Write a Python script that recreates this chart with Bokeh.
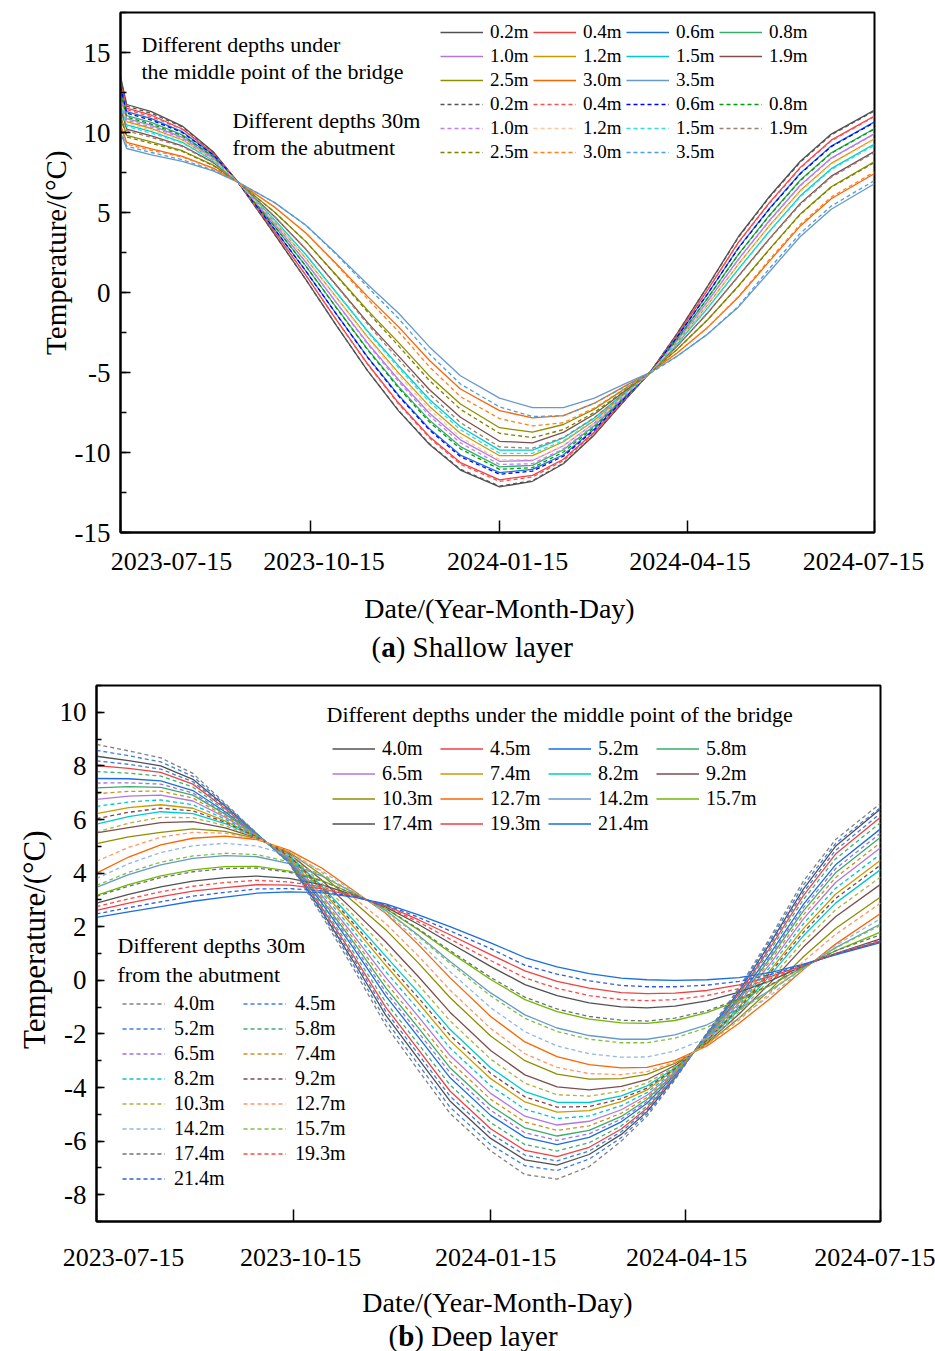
import pandas as pd
from bokeh.plotting import figure
from bokeh.layouts import column
from bokeh.models import (Legend, LegendItem, Label, FixedTicker, SingleIntervalTicker,
                          LinearAxis, Title)
from bokeh.embed import file_html
from bokeh.resources import INLINE

SERIF = "Liberation Serif"

# ---------------- time axis ----------------
start_date = "2023-07-15"
tick_labels = ["2023-07-15", "2023-10-15", "2024-01-15", "2024-04-15", "2024-07-15"]
tick_days = [(pd.Timestamp(t) - pd.Timestamp(start_date)).days for t in tick_labels]
x_title = "Date/(Year-Month-Day)"
y_title = "Temperature/(°C)"

# ---------------- (a) shallow layer ----------------
shallow_days = [0, 3, 15, 30, 45, 57, 75, 90, 105, 120, 135, 150, 165, 184,
                200, 215, 230, 245, 257, 270, 285, 300, 315, 330, 345, 366]
shallow_depths = ["0.2m", "0.4m", "0.6m", "0.8m", "1.0m", "1.2m", "1.5m",
                  "1.9m", "2.5m", "3.0m", "3.5m"]

# under the middle point of the bridge (solid)
mid_0_2 = [13.5, 11.75, 11.3, 10.4, 8.8, 6.9, 3.6, 0.8, -2.1, -4.9, -7.4, -9.5, -11.1, -12.15, -11.8, -10.7, -8.9, -6.7, -5.0, -2.6, 0.4, 3.5, 6.0, 8.2, 9.9, 11.4]
mid_0_4 = [13.22, 11.53, 11.08, 10.22, 8.7, 6.9, 3.76, 1.07, -1.74, -4.47, -6.91, -9.01, -10.63, -11.71, -11.43, -10.42, -8.72, -6.62, -5.0, -2.71, 0.16, 3.15, 5.62, 7.82, 9.52, 11.03]
mid_0_6 = [12.94, 11.31, 10.87, 10.05, 8.61, 6.9, 3.92, 1.34, -1.38, -4.04, -6.42, -8.52, -10.16, -11.26, -11.06, -10.14, -8.53, -6.54, -5.0, -2.82, -0.08, 2.8, 5.25, 7.45, 9.15, 10.66]
mid_0_8 = [12.63, 11.06, 10.63, 9.85, 8.5, 6.9, 4.1, 1.65, -0.98, -3.55, -5.88, -7.98, -9.63, -10.9, -10.8, -9.83, -8.33, -6.45, -5.0, -2.95, -0.35, 2.4, 4.83, 7.03, 8.73, 10.25]
mid_1_0 = [12.38, 10.87, 10.44, 9.7, 8.42, 6.9, 4.24, 1.89, -0.66, -3.17, -5.45, -7.55, -9.21, -10.55, -10.5, -9.58, -8.16, -6.38, -5.0, -3.05, -0.56, 2.09, 4.5, 6.7, 8.4, 9.93]
mid_1_2 = [12.13, 10.68, 10.25, 9.54, 8.33, 6.9, 4.38, 2.13, -0.34, -2.79, -5.02, -7.12, -8.8, -10.2, -10.2, -9.33, -8.0, -6.31, -5.0, -3.15, -0.77, 1.78, 4.17, 6.37, 8.07, 9.61]
mid_1_5 = [11.89, 10.48, 10.06, 9.39, 8.25, 6.9, 4.52, 2.36, -0.03, -2.42, -4.59, -6.69, -8.39, -9.85, -9.85, -9.09, -7.84, -6.24, -5.0, -3.24, -0.98, 1.48, 3.84, 6.04, 7.74, 9.28]
mid_1_9 = [11.54, 10.21, 9.79, 9.17, 8.13, 6.9, 4.72, 2.7, 0.42, -1.88, -3.98, -6.08, -7.8, -9.3, -9.4, -8.74, -7.61, -6.14, -5.0, -3.38, -1.28, 1.04, 3.37, 5.57, 7.27, 8.82]
mid_2_5 = [11.05, 9.82, 9.41, 8.86, 7.96, 6.9, 5.0, 3.18, 1.05, -1.12, -3.13, -5.23, -6.97, -8.45, -8.72, -8.25, -7.29, -6.0, -5.0, -3.58, -1.7, 0.42, 2.71, 4.91, 6.61, 8.18]
mid_3_0 = [10.49, 9.38, 8.98, 8.51, 7.77, 6.9, 5.32, 3.72, 1.77, -0.26, -2.15, -4.25, -6.03, -7.38, -7.84, -7.69, -6.92, -5.84, -5.0, -3.8, -2.18, -0.28, 1.96, 4.16, 5.86, 7.44]
mid_3_5 = [10.0, 9.0, 8.6, 8.2, 7.6, 6.9, 5.6, 4.2, 2.4, 0.5, -1.3, -3.4, -5.2, -6.6, -7.2, -7.2, -6.6, -5.7, -5.0, -4.0, -2.6, -0.9, 1.3, 3.5, 5.2, 6.8]

# 30 m from the abutment (dashed)
abut_0_2 = [13.4, 11.65, 11.2, 10.35, 8.78, 6.9, 3.6, 0.8, -2.1, -4.9, -7.38, -9.46, -11.05, -12.1, -11.76, -10.67, -8.88, -6.7, -5.0, -2.6, 0.38, 3.45, 5.95, 8.15, 9.85, 11.35]
abut_0_4 = [13.1, 11.43, 10.98, 10.2, 8.7, 6.9, 3.76, 1.07, -1.75, -4.5, -6.97, -9.09, -10.73, -11.81, -11.53, -10.51, -8.78, -6.65, -5.01, -2.71, 0.16, 3.12, 5.58, 7.78, 9.48, 11.0]
abut_0_6 = [12.84, 11.21, 10.77, 10.0, 8.6, 6.9, 3.92, 1.34, -1.39, -4.07, -6.48, -8.6, -10.26, -11.36, -11.16, -10.23, -8.59, -6.57, -5.01, -2.82, -0.08, 2.78, 5.22, 7.42, 9.12, 10.63]
abut_0_8 = [12.53, 10.96, 10.53, 9.8, 8.5, 6.9, 4.1, 1.65, -1.0, -3.6, -5.97, -8.1, -9.77, -11.05, -10.95, -9.97, -8.42, -6.5, -5.02, -2.95, -0.35, 2.38, 4.8, 7.0, 8.7, 10.22]
abut_1_0 = [12.28, 10.77, 10.34, 9.65, 8.4, 6.9, 4.24, 1.89, -0.68, -3.23, -5.57, -7.71, -9.4, -10.75, -10.7, -9.76, -8.28, -6.44, -5.02, -3.05, -0.56, 2.06, 4.47, 6.67, 8.37, 9.9]
abut_1_2 = [12.03, 10.58, 10.15, 9.5, 8.3, 6.9, 4.38, 2.13, -0.37, -2.87, -5.17, -7.32, -9.04, -10.45, -10.45, -9.56, -8.15, -6.39, -5.03, -3.15, -0.77, 1.75, 4.12, 6.3, 8.0, 9.55]
abut_1_5 = [11.79, 10.38, 9.96, 9.35, 8.22, 6.9, 4.52, 2.36, -0.05, -2.48, -4.71, -6.85, -8.58, -10.05, -10.05, -9.27, -7.96, -6.3, -5.02, -3.24, -0.98, 1.45, 3.8, 5.98, 7.68, 9.2]
abut_1_9 = [11.44, 10.11, 9.69, 9.12, 8.1, 6.9, 4.72, 2.7, 0.39, -1.99, -4.19, -6.36, -8.13, -9.65, -9.73, -9.06, -7.82, -6.25, -5.04, -3.38, -1.28, 1.0, 3.33, 5.5, 7.2, 8.75]
abut_2_5 = [10.95, 9.72, 9.31, 8.82, 7.93, 6.9, 5.0, 3.18, 1.02, -1.23, -3.34, -5.51, -7.3, -8.8, -9.07, -8.57, -7.5, -6.1, -5.04, -3.58, -1.7, 0.4, 2.68, 4.88, 6.58, 8.12]
abut_3_0 = [10.39, 9.28, 8.88, 8.47, 7.75, 6.9, 5.32, 3.72, 1.72, -0.41, -2.45, -4.65, -6.51, -7.88, -8.34, -8.14, -7.22, -5.99, -5.05, -3.8, -2.18, -0.25, 2.06, 4.26, 5.96, 7.54]
abut_3_5 = [10.15, 9.15, 8.75, 8.3, 7.65, 6.9, 5.6, 4.2, 2.35, 0.34, -1.63, -3.84, -5.72, -7.15, -7.75, -7.7, -6.93, -5.87, -5.06, -4.0, -2.6, -0.85, 1.5, 3.7, 5.4, 7.0]

shallow_mid_colors = ["#515151", "#F14040", "#1A6FDF", "#37AD6B", "#B177DE", "#CC9900",
                      "#00CBCC", "#7D4E4E", "#8E8E00", "#FB6501", "#6699CC"]
shallow_abut_colors = ["#555555", "#FF5050", "#0000FF", "#00A000", "#C080FF", "#FFC8A0",
                       "#30E0E0", "#A08070", "#808000", "#FF8020", "#4A9FE0"]

# ---------------- (b) deep layer ----------------
deep_days = [0, 15, 30, 45, 60, 75, 90, 105, 120, 135, 150, 165, 184, 200,
             215, 230, 245, 257, 270, 285, 300, 315, 330, 345, 366]
deep_depths = ["4.0m", "4.5m", "5.2m", "5.8m", "6.5m", "7.4m", "8.2m", "9.2m",
               "10.3m", "12.7m", "14.2m", "15.7m", "17.4m", "19.3m", "21.4m"]

deep_mid_4_0 = [8.36, 8.2, 8.0, 7.5, 6.5, 5.45, 4.4, 2.6, 0.7, -1.3, -2.9, -4.5, -5.9, -6.7, -6.9, -6.5, -5.75, -4.9, -3.65, -2.0, -0.4, 1.45, 3.4, 5.0, 6.39]
deep_mid_4_5 = [8.01, 7.91, 7.76, 7.32, 6.41, 5.43, 4.44, 2.73, 0.91, -1.0, -2.56, -4.13, -5.54, -6.35, -6.58, -6.23, -5.55, -4.77, -3.6, -2.04, -0.5, 1.28, 3.16, 4.71, 6.08]
deep_mid_5_2 = [7.53, 7.52, 7.44, 7.08, 6.29, 5.41, 4.49, 2.9, 1.2, -0.58, -2.09, -3.63, -5.04, -5.86, -6.13, -5.86, -5.28, -4.59, -3.53, -2.09, -0.63, 1.05, 2.83, 4.31, 5.65]
deep_mid_5_8 = [7.18, 7.23, 7.2, 6.91, 6.2, 5.4, 4.52, 3.03, 1.42, -0.27, -1.75, -3.26, -4.67, -5.51, -5.81, -5.6, -5.08, -4.45, -3.47, -2.12, -0.72, 0.88, 2.59, 4.01, 5.34]
deep_mid_6_5 = [6.75, 6.87, 6.91, 6.69, 6.09, 5.38, 4.57, 3.19, 1.68, 0.11, -1.33, -2.8, -4.22, -5.07, -5.4, -5.26, -4.83, -4.29, -3.41, -2.17, -0.84, 0.67, 2.29, 3.65, 4.95]
deep_mid_7_4 = [6.22, 6.44, 6.55, 6.42, 5.95, 5.35, 4.62, 3.38, 2.0, 0.56, -0.82, -2.25, -3.67, -4.54, -4.92, -4.86, -4.53, -4.09, -3.33, -2.22, -0.99, 0.42, 1.93, 3.21, 4.48]
deep_mid_8_2 = [5.83, 6.11, 6.29, 6.22, 5.85, 5.33, 4.66, 3.53, 2.24, 0.9, -0.43, -1.83, -3.26, -4.15, -4.55, -4.56, -4.31, -3.94, -3.27, -2.26, -1.1, 0.23, 1.66, 2.88, 4.13]
deep_mid_9_2 = [5.5, 5.7, 5.88, 5.92, 5.69, 5.31, 4.72, 3.75, 2.61, 1.44, 0.16, -1.19, -2.62, -3.53, -3.98, -4.09, -3.96, -3.71, -3.18, -2.32, -1.26, -0.06, 1.24, 2.37, 3.58]
deep_mid_10_3 = [5.1, 5.35, 5.52, 5.65, 5.56, 5.28, 4.78, 3.94, 2.93, 1.89, 0.67, -0.64, -2.08, -3.0, -3.5, -3.69, -3.67, -3.51, -3.1, -2.38, -1.41, -0.31, 0.88, 1.93, 3.11]
deep_mid_12_7 = [4.0, 4.6, 5.05, 5.3, 5.38, 5.25, 4.85, 4.2, 3.35, 2.5, 1.35, 0.1, -1.35, -2.3, -2.85, -3.15, -3.27, -3.25, -3.0, -2.45, -1.6, -0.65, 0.4, 1.35, 2.49]
deep_mid_14_2 = [3.47, 3.94, 4.31, 4.55, 4.65, 4.61, 4.35, 3.9, 3.27, 2.61, 1.7, 0.71, -0.47, -1.29, -1.78, -2.06, -2.2, -2.2, -2.04, -1.66, -1.06, -0.35, 0.46, 1.22, 2.1]
deep_mid_15_7 = [3.17, 3.57, 3.9, 4.12, 4.24, 4.25, 4.07, 3.73, 3.22, 2.68, 1.9, 1.05, 0.03, -0.72, -1.17, -1.45, -1.59, -1.61, -1.5, -1.21, -0.75, -0.17, 0.5, 1.1, 1.8]
deep_mid_17_4 = [2.88, 3.21, 3.49, 3.7, 3.83, 3.89, 3.8, 3.57, 3.18, 2.74, 2.1, 1.39, 0.52, -0.16, -0.57, -0.84, -0.99, -1.03, -0.96, -0.77, -0.44, 0.0, 0.54, 1.0, 1.55]
deep_mid_19_3 = [2.61, 2.88, 3.12, 3.33, 3.46, 3.57, 3.55, 3.42, 3.14, 2.79, 2.27, 1.7, 0.96, 0.35, -0.04, -0.29, -0.46, -0.5, -0.48, -0.38, -0.17, 0.15, 0.57, 0.98, 1.45]
deep_mid_21_4 = [2.35, 2.55, 2.75, 2.95, 3.1, 3.25, 3.3, 3.27, 3.1, 2.85, 2.45, 2.0, 1.4, 0.85, 0.5, 0.25, 0.08, 0.02, 0.0, 0.02, 0.1, 0.3, 0.6, 0.95, 1.41]

deep_abut_4_0 = [8.8, 8.56, 8.3, 7.72, 6.61, 5.47, 4.35, 2.44, 0.43, -1.68, -3.33, -4.96, -6.36, -7.25, -7.42, -6.95, -6.0, -5.07, -3.72, -1.95, -0.28, 1.66, 3.7, 5.25, 6.6]
deep_abut_4_5 = [8.58, 8.38, 8.15, 7.61, 6.56, 5.46, 4.38, 2.52, 0.57, -1.49, -3.11, -4.73, -6.13, -6.92, -7.1, -6.67, -5.87, -4.98, -3.68, -1.98, -0.34, 1.56, 3.55, 5.1, 6.45]
deep_abut_5_2 = [8.19, 8.06, 7.88, 7.41, 6.46, 5.44, 4.42, 2.66, 0.81, -1.15, -2.73, -4.32, -5.72, -6.52, -6.74, -6.37, -5.65, -4.83, -3.62, -2.02, -0.45, 1.37, 3.28, 4.85, 6.23]
deep_abut_5_8 = [7.79, 7.73, 7.62, 7.21, 6.35, 5.42, 4.46, 2.81, 1.04, -0.81, -2.35, -3.9, -5.31, -6.13, -6.37, -6.06, -5.43, -4.69, -3.57, -2.06, -0.56, 1.18, 3.01, 4.53, 5.88]
deep_abut_6_5 = [7.36, 7.37, 7.32, 6.99, 6.24, 5.4, 4.5, 2.97, 1.31, -0.43, -1.92, -3.44, -4.85, -5.69, -5.97, -5.73, -5.18, -4.52, -3.5, -2.1, -0.68, 0.97, 2.71, 4.16, 5.49]
deep_abut_7_4 = [6.96, 7.05, 7.06, 6.8, 6.14, 5.39, 4.54, 3.11, 1.55, -0.08, -1.54, -3.03, -4.44, -5.29, -5.6, -5.43, -4.96, -4.37, -3.44, -2.14, -0.78, 0.78, 2.44, 3.83, 5.14]
deep_abut_8_2 = [6.49, 6.65, 6.73, 6.55, 6.02, 5.36, 4.59, 3.29, 1.84, 0.33, -1.07, -2.52, -3.94, -4.81, -5.16, -5.06, -4.68, -4.19, -3.37, -2.19, -0.92, 0.55, 2.11, 3.43, 4.71]
deep_abut_9_2 = [6.03, 6.27, 6.42, 6.32, 5.9, 5.34, 4.64, 3.46, 2.12, 0.73, -0.63, -2.04, -3.47, -4.35, -4.73, -4.71, -4.42, -4.02, -3.3, -2.24, -1.04, 0.33, 1.79, 3.05, 4.3]
deep_abut_10_3 = [5.53, 5.86, 6.08, 6.07, 5.77, 5.32, 4.69, 3.64, 2.42, 1.17, -0.14, -1.51, -2.94, -3.84, -4.27, -4.32, -4.14, -3.83, -3.23, -2.29, -1.18, 0.08, 1.45, 2.63, 3.85]
deep_abut_12_7 = [4.44, 4.96, 5.34, 5.52, 5.49, 5.27, 4.81, 4.04, 3.09, 2.12, 0.93, -0.36, -1.8, -2.74, -3.25, -3.48, -3.52, -3.41, -3.06, -2.41, -1.48, -0.44, 0.7, 1.71, 2.88]
deep_abut_14_2 = [3.8, 4.35, 4.77, 5.02, 5.11, 5.01, 4.66, 4.09, 3.32, 2.54, 1.48, 0.33, -1.02, -1.92, -2.45, -2.74, -2.87, -2.86, -2.64, -2.15, -1.4, -0.54, 0.42, 1.3, 2.3]
deep_abut_15_7 = [3.54, 4.03, 4.41, 4.64, 4.74, 4.69, 4.42, 3.94, 3.28, 2.6, 1.66, 0.63, -0.58, -1.42, -1.91, -2.2, -2.33, -2.33, -2.16, -1.76, -1.12, -0.38, 0.46, 1.2, 2.05]
deep_abut_17_4 = [3.13, 3.51, 3.83, 4.05, 4.17, 4.19, 4.03, 3.71, 3.22, 2.69, 1.93, 1.11, 0.11, -0.63, -1.07, -1.35, -1.49, -1.52, -1.41, -1.14, -0.7, -0.15, 0.51, 1.1, 1.7]
deep_abut_19_3 = [2.75, 3.04, 3.3, 3.51, 3.65, 3.73, 3.67, 3.49, 3.16, 2.77, 2.19, 1.54, 0.74, 0.09, -0.3, -0.57, -0.72, -0.76, -0.72, -0.57, -0.31, 0.07, 0.55, 1.0, 1.5]
deep_abut_21_4 = [2.48, 2.71, 2.93, 3.14, 3.28, 3.41, 3.42, 3.34, 3.12, 2.82, 2.36, 1.85, 1.18, 0.56, 0.23, -0.02, -0.19, -0.24, -0.24, -0.18, -0.04, 0.22, 0.58, 0.98, 1.45]

deep_mid_colors = ["#515151", "#F14040", "#1A6FDF", "#37AD6B", "#B177DE", "#CC9900",
                   "#00CBCC", "#7D4E4E", "#8E8E00", "#FB6501", "#6699CC", "#6FB802",
                   "#515151", "#F14040", "#1A6FDF"]
deep_abut_colors = ["#808080", "#3A7FE8", "#3A7FE8", "#40B070", "#A070E0", "#D09020",
                    "#00C8C8", "#804848", "#B0B040", "#FF9868", "#90B8E0", "#80C040",
                    "#707070", "#FF4848", "#3060E0"]

shallow_mid = [mid_0_2, mid_0_4, mid_0_6, mid_0_8, mid_1_0, mid_1_2, mid_1_5,
               mid_1_9, mid_2_5, mid_3_0, mid_3_5]
shallow_abut = [abut_0_2, abut_0_4, abut_0_6, abut_0_8, abut_1_0, abut_1_2, abut_1_5,
                abut_1_9, abut_2_5, abut_3_0, abut_3_5]
deep_mid = [deep_mid_4_0, deep_mid_4_5, deep_mid_5_2, deep_mid_5_8, deep_mid_6_5,
            deep_mid_7_4, deep_mid_8_2, deep_mid_9_2, deep_mid_10_3, deep_mid_12_7,
            deep_mid_14_2, deep_mid_15_7, deep_mid_17_4, deep_mid_19_3, deep_mid_21_4]
deep_abut = [deep_abut_4_0, deep_abut_4_5, deep_abut_5_2, deep_abut_5_8, deep_abut_6_5,
             deep_abut_7_4, deep_abut_8_2, deep_abut_9_2, deep_abut_10_3, deep_abut_12_7,
             deep_abut_14_2, deep_abut_15_7, deep_abut_17_4, deep_abut_19_3, deep_abut_21_4]

for s in shallow_mid + shallow_abut:
    assert len(s) == len(shallow_days)
for s in deep_mid + deep_abut:
    assert len(s) == len(deep_days)

DASH = "4 3"
X_SPAN = 366


def make_figure(height, y_range, left, right, top, bottom):
    p = figure(width=935, height=height, x_range=(0, X_SPAN), y_range=y_range,
               output_backend="svg", toolbar_location=None,
               min_border_left=left, min_border_right=right,
               min_border_top=top, min_border_bottom=bottom)
    p.grid.visible = False
    p.outline_line_color = "black"
    p.outline_line_width = 2
    p.background_fill_color = "white"
    p.border_fill_color = "white"
    return p


def style_axes(p, frame_px, label_shift_px, label_standoff,
               y_interval, y_ticks, y_label_size, y_label_standoff, y_label_top_gap,
               y_major_in, y_minor_in):
    # tick marks at the dates, pointing into the plot
    xa = p.xaxis[0]
    xa.ticker = FixedTicker(ticks=tick_days, minor_ticks=[])
    xa.major_label_overrides = {d: "" for d in tick_days}
    xa.major_label_text_font_size = "1px"
    xa.major_label_standoff = 0
    xa.major_tick_in = 12
    xa.major_tick_out = 0
    xa.minor_tick_in = 0
    xa.minor_tick_out = 0
    xa.axis_line_width = 2
    xa.major_tick_line_width = 1.5

    # date texts, nudged inward at the ends as in the printed figure
    per_px = X_SPAN / frame_px
    label_pos = [round(d + s * per_px, 3) for d, s in zip(tick_days, label_shift_px)]
    la = LinearAxis(ticker=FixedTicker(ticks=label_pos, minor_ticks=[]),
                    major_label_overrides={pos: lab for pos, lab in zip(label_pos, tick_labels)},
                    axis_line_color=None, major_tick_line_color=None,
                    minor_tick_line_color=None, major_tick_in=0, major_tick_out=0,
                    minor_tick_in=0, minor_tick_out=0,
                    major_label_standoff=label_standoff,
                    major_label_text_font=SERIF, major_label_text_font_size="26px",
                    major_label_text_color="black")
    p.add_layout(la, "below")

    ya = p.yaxis[0]
    ya.ticker = SingleIntervalTicker(interval=y_interval, num_minor_ticks=2)
    ya.major_label_overrides = {v: str(v) for v in y_ticks}
    ya.major_tick_in = y_major_in
    ya.major_tick_out = 0
    ya.minor_tick_in = y_minor_in
    ya.minor_tick_out = 0
    ya.axis_line_width = 2
    ya.major_tick_line_width = 1.5
    ya.minor_tick_line_width = 1.5
    ya.major_label_text_font = SERIF
    ya.major_label_text_font_size = "27px"
    ya.major_label_text_color = "black"
    ya.major_label_standoff = 10

    # vertical axis title, its upper end a fixed gap below the frame top
    p.add_layout(Title(text=y_title, align="right", offset=y_label_top_gap,
                       standoff=y_label_standoff, text_font=SERIF,
                       text_font_size=y_label_size, text_font_style="normal",
                       text_color="black"), "left")


def add_text(p, x, y, text, size, x_offset=0, align="left", style="normal"):
    p.add_layout(Label(x=x, y=y, x_offset=x_offset, text=text, text_font=SERIF,
                       text_font_size=size, text_font_style=style, text_align=align,
                       text_baseline="middle", text_color="black"))


def make_legend(items, loc, ncols, label_width, label_height, standoff, size):
    return Legend(items=items, location=loc, orientation="horizontal", ncols=ncols,
                  glyph_width=43, glyph_height=label_height, label_width=label_width,
                  label_height=label_height, label_standoff=standoff, spacing=0,
                  padding=0, margin=0, border_line_color=None, background_fill_alpha=0,
                  label_text_font=SERIF, label_text_font_size=size,
                  label_text_color="black")


def caption_strip(height, title_center_x, title_from_top, cap_left, cap_from_top,
                  letter, rest):
    # strip under a panel holding the x-axis title and the sub-figure caption
    c = figure(width=935, height=height, x_range=(0, 935), y_range=(0, height),
               output_backend="svg", toolbar_location=None, min_border=0,
               x_axis_location=None, y_axis_location=None)
    c.grid.visible = False
    c.outline_line_color = None
    c.background_fill_color = "white"
    c.border_fill_color = "white"
    add_text(c, title_center_x, height - title_from_top, x_title, "28px", align="center")
    y = height - cap_from_top
    size = "29px"
    w_paren = 9.7
    w_letter = 14.5 if letter == "a" else 16.1
    add_text(c, cap_left, y, "(", size)
    add_text(c, cap_left + w_paren, y, letter, size, style="bold")
    add_text(c, cap_left + w_paren + w_letter, y, rest, size)
    return c


# ================= panel (a) =================
P1_H = 584
p1 = make_figure(P1_H, (-15, 17.5), 120, 61, 12, P1_H - 12 - 520)
style_axes(p1, 754, [51, 14, 8, 3, -11], 20,
           5, list(range(-15, 16, 5)), "29px", 0, 138, 10, 6)


def ya_top(px):
    return 17.5 - (px - 12) / 16.0


mid_items, abut_items = [], []
for depth, vals, col in zip(shallow_depths, shallow_mid, shallow_mid_colors):
    r = p1.line(shallow_days, vals, line_color=col, line_width=1.3)
    mid_items.append(LegendItem(label=depth, renderers=[r]))
for depth, vals, col in zip(shallow_depths, shallow_abut, shallow_abut_colors):
    r = p1.line(shallow_days, vals, line_color=col, line_width=1.3, line_dash=DASH)
    abut_items.append(LegendItem(label=depth, renderers=[r]))

p1.add_layout(make_legend(mid_items, (320, 440), 4, 43, 24, 7, "19px"))
p1.add_layout(make_legend(abut_items, (320, 368), 4, 43, 24, 7, "19px"))

add_text(p1, 0, ya_top(44), "Different depths under", "22px", x_offset=21)
add_text(p1, 0, ya_top(71), "the middle point of  the bridge", "22px", x_offset=21)
add_text(p1, 0, ya_top(120), "Different depths  30m", "22px", x_offset=112)
add_text(p1, 0, ya_top(147), "from the  abutment", "22px", x_offset=112)

CAP1_H = 670 - P1_H
cap1 = caption_strip(CAP1_H, 499, 608 - P1_H, 371, 646 - P1_H, "a", ") Shallow layer")

# ================= panel (b) =================
P2_H = 605
p2 = make_figure(P2_H, (-9, 11), 96, 55, 15, P2_H - 15 - 536)
style_axes(p2, 784, [27, 7, 5, 1, -5], 27,
           2, list(range(-8, 11, 2)), "31px", 9, 145, 8, 5)


def ya_bot(px):
    return 11 - (px - 685) / 26.8


dmid_items, dabut_items = [], []
for depth, vals, col in zip(deep_depths, deep_mid, deep_mid_colors):
    r = p2.line(deep_days, vals, line_color=col, line_width=1.3)
    dmid_items.append(LegendItem(label=depth, renderers=[r]))
for depth, vals, col in zip(deep_depths, deep_abut, deep_abut_colors):
    r = p2.line(deep_days, vals, line_color=col, line_width=1.3, line_dash=DASH)
    dabut_items.append(LegendItem(label=depth, renderers=[r]))

p2.add_layout(make_legend(dmid_items, (236, 385), 4, 58, 25, 7, "20px"))
p2.add_layout(make_legend(dabut_items, (26, 30), 2, 69, 25, 9, "20px"))

add_text(p2, 0, ya_bot(714), "Different depths under  the middle point of  the bridge", "22px", x_offset=326 - 96)
add_text(p2, 0, ya_bot(945), "Different depths  30m", "22px", x_offset=117 - 96)
add_text(p2, 0, ya_bot(974), "from the  abutment", "22px", x_offset=117 - 96)

P2_TOP = 670
CAP2_H = 1351 - P2_TOP - P2_H
cap2 = caption_strip(CAP2_H, 497, 1302 - P2_TOP - P2_H, 388, 1335 - P2_TOP - P2_H,
                     "b", ") Deep layer")

layout = column(column(p1), column(cap1), column(p2), column(cap2))
open("out.html", "w").write(file_html(layout, INLINE))
